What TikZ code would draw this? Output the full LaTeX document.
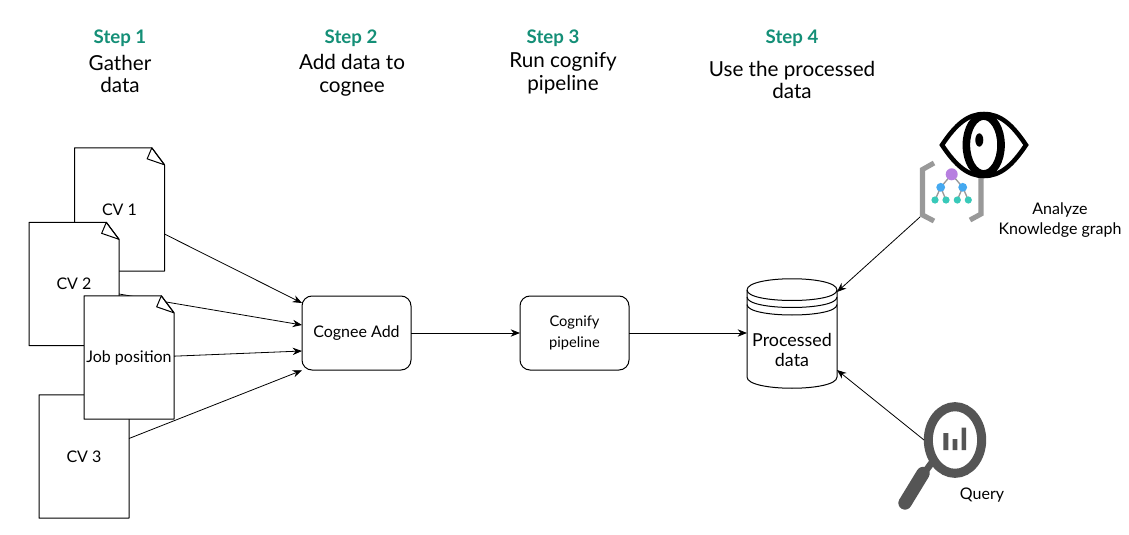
\documentclass[tikz,border=0pt]{standalone}
\usepackage{fontspec}
\usepackage{tikz}
\setmainfont{Lato}
\usetikzlibrary{positioning,calc,arrows.meta}

\newcommand{\docpage}[3]{
        \node[docnode] (#1) at (#2) {};
        \draw[pageline, fill=white] (#1.north west) -- ([xshift=-9.5pt]#1.north east) -- ([yshift=-12.75pt]#1.north east) -- (#1.south east) -- (#1.south west) -- cycle;
        \draw[pageline] ([xshift=-9.5pt]#1.north east) -- ([yshift=-12.75pt]#1.north east) -- ([xshift=-13pt,yshift=-8.25pt]#1.north east) -- cycle;
        \node[doclabel] (#1label) at (#1) {#3};
}

\begin{document}
\begin{tikzpicture}[
        x=0.75pt, y=-0.75pt,
        stepnode/.style={text=stepgreen, font=\fontsize{14}{17}\selectfont\bfseries},
        textnode/.style={align=center, text=black, font=\fontsize{15.5}{17}\selectfont},
        smallnode/.style={align=center, text=black, font=\fontsize{12}{15}\selectfont},
        docnode/.style={rectangle, inner sep=0pt, outer sep=0pt, minimum width=67.5pt, minimum height=92.5pt},
        doclabel/.style={align=center, inner sep=0pt, font=\fontsize{12}{14}\selectfont},
        pageline/.style={draw=black, line width=0.75pt, line join=round},
        boxnode/.style={rectangle, rounded corners=7.5pt, draw=black, line width=0.75pt, fill=white, minimum width=81.75pt, minimum height=55.5pt, align=center, inner sep=0pt, outer sep=0pt, font=\fontsize{12}{16}\selectfont},
        dbnode/.style={rectangle, minimum width=67.5pt, minimum height=57pt, align=center, inner sep=0pt, outer sep=0pt, font=\fontsize{13.4}{14.5}\selectfont},
        iconnode/.style={rectangle, inner sep=0pt, outer sep=0pt},
        arrowline/.style={-{Stealth[length=7pt,width=5.5pt]}, line width=0.6pt, black},
        bracketline/.style={draw=bracketgray, line width=3.8pt, line join=miter},
        treeline/.style={draw=bracketgray, line width=1pt},
]
        \definecolor{stepgreen}{HTML}{148F77}
        \definecolor{bracketgray}{HTML}{999999}
        \definecolor{rootpurple}{HTML}{B77FE0}
        \definecolor{midblue}{HTML}{45A9F0}
        \definecolor{leafteal}{HTML}{38C9B9}
        \definecolor{lensgray}{HTML}{555555}
        \useasboundingbox (0,0) rectangle (1129,535);
        \fill[white] (0,0) rectangle (1129,535);

        % headings
        \node[stepnode] (stepone) at (120,38) {Step 1};
        \node[stepnode] (steptwo) at (351,38) {Step 2};
        \node[stepnode] (stepthree) at (553,38) {Step 3};
        \node[stepnode] (stepfour) at (792,38) {Step 4};
        \node[textnode] (gather) at (120,74) {Gather\\data};
        \node[textnode] (adddata) at (352,75) {Add data to\\cognee};
        \node[textnode] (runcognify) at (563,73) {Run cognify\\pipeline};
        \node[textnode] (useprocessed) at (792,80) {Use the processed\\data};

        % boxes in the middle
        \node[boxnode] (cogneeadd) at (356.5,333) {Cognee Add};
        \node[boxnode, font=\fontsize{11}{16}\selectfont] (cognify) at (574.5,333) {Cognify\\pipeline};

        % the pages, the arrows run behind the later ones
        \docpage{cvone}{119.5,209.5}{CV 1}
        \draw[arrowline] ([yshift=-18.4pt]cvone.east) -- ([yshift=22.5pt]cogneeadd.west);
        \docpage{cvtwo}{74,284}{CV 2}
        \draw[arrowline] ([yshift=-7.5pt]cvtwo.east) -- ([yshift=6pt]cogneeadd.west);
        \docpage{cvthree}{84,456.5}{CV 3}
        \draw[arrowline] ([yshift=13.5pt]cvthree.east) -- ([yshift=-28pt]cogneeadd.west);
        \docpage{jobpos}{129,357.5}{Job position}
        \draw[arrowline] ([yshift=1pt]jobpos.east) -- ([yshift=-13.5pt]cogneeadd.west);

        \draw[arrowline] (cogneeadd.east) -- (cognify.west);

        % processed data
        \draw[pageline, fill=white] (747,290) .. controls (747,275) and (837,275) .. (837,290) -- (837,377) .. controls (837,392) and (747,392) .. (747,377) -- cycle;
        \draw[pageline] (747,290) .. controls (747,304) and (837,304) .. (837,290);
        \draw[pageline] (747,297) .. controls (747,311) and (837,311) .. (837,297);
        \draw[pageline] (747,304.5) .. controls (747,318.5) and (837,318.5) .. (837,304.5);
        \node[dbnode] (processed) at (792,350) {Processed\\data};
        \draw[arrowline] (cognify.east) -- (cognify.east -| processed.west);

        % knowledge graph icon
        \node[iconnode, minimum width=48pt, minimum height=42.75pt] (kgicon) at (952,188.5) {};
        \draw[bracketline] (934,163) -- (922.5,169.5) -- (922.5,215) -- (934,221);
        \draw[bracketline] (970,220) -- (981,214) -- (981,170);
        \draw[treeline] (951.7,174.3) -- (940.7,187.3) -- (935,200) (940.7,187.3) -- (946,200);
        \draw[treeline] (951.7,174.3) -- (962.7,187.3) -- (957.3,200) (962.7,187.3) -- (968.3,200);
        \fill[rootpurple] (951.7,174.3) circle (4.5pt);
        \fill[midblue] (940.7,187.3) circle (3.3pt) (962.7,187.3) circle (3.3pt);
        \fill[leafteal] (935,200) circle (2.7pt) (946,200) circle (2.7pt) (957.3,200) circle (2.7pt) (968.3,200) circle (2.7pt);

        % eye
        \draw[black, fill=white, line width=3.4pt, line join=miter] (942,145) .. controls (956,124) and (968,114) .. (984,114) .. controls (1000,114) and (1012,124) .. (1026,145) .. controls (1012,166) and (1000,176) .. (984,176) .. controls (968,176) and (956,166) .. (942,145) -- cycle;
        \draw[black, line width=5.7pt] (983.7,145) ellipse (13pt and 21.7pt);
        \fill[black] (979.3,140) ellipse (3pt and 5pt);
        \node[smallnode] (analyze) at (1060,220) {Analyze\\Knowledge graph};

        % magnifier
        \node[iconnode, minimum width=46.5pt, minimum height=57pt] (queryicon) at (955,440) {};
        \draw[lensgray, line width=6.8pt] (955,440) ellipse (20pt and 25pt);
        \draw[lensgray, line width=5pt] (933,461) -- (922,476);
        \draw[lensgray, line width=10pt, line cap=round] (923,473.5) -- (905,503);
        \fill[lensgray] (943.3,433) rectangle (948.3,450) (952.7,439) rectangle (957.3,450) (961.7,427.7) rectangle (966,450);
        \node[smallnode] (query) at (982,495) {Query};

        \draw[arrowline] (kgicon.south west) -- ([yshift=15pt]processed.north east);
        \draw[arrowline] (queryicon.west) -- ([yshift=13.5pt]processed.south east);
\end{tikzpicture}
\end{document}
